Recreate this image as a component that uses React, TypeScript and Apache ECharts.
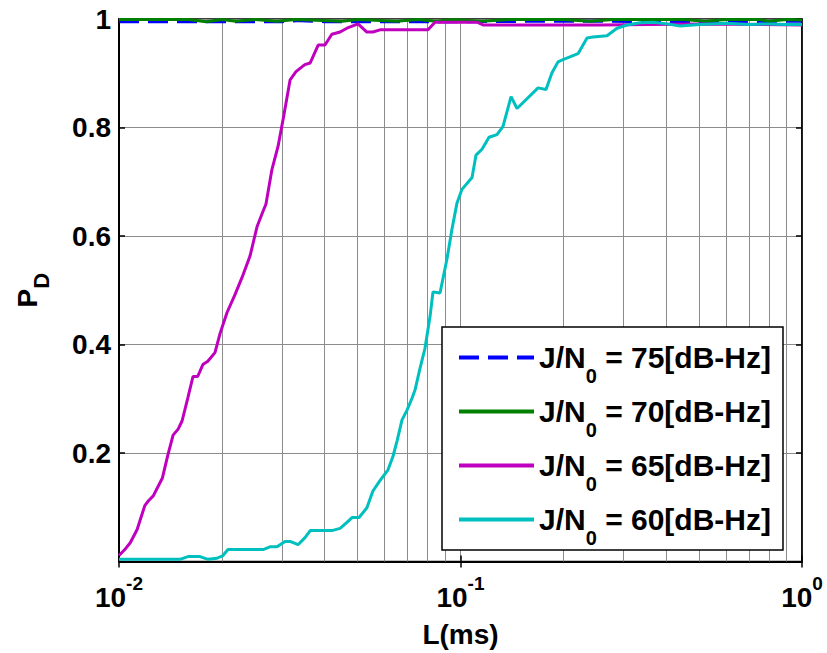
import React, { useEffect, useRef } from 'react';
import * as echarts from 'echarts';

// ---- data (L in ms, P_D) ----
const levels = ['75', '70', '65', '60'];
const seriesNames = levels.map((l) => `J/N0 = ${l}[dB-Hz]`);
const colors = ['#0000FF', '#008000', '#BF00BF', '#00BFBF'];

const L75 = [0.01, 0.03, 0.034, 0.04, 0.1, 0.2, 0.5, 1.0];
const P75 = [0.995, 0.995, 0.997, 0.995, 0.995, 0.996, 0.995, 0.996];

const L70 = [0.01, 0.016, 0.018, 0.02, 0.022, 0.025, 0.029, 0.033, 0.045, 0.05, 0.065, 0.075, 0.085, 0.095, 0.115, 0.14, 0.2, 0.24, 0.28, 0.45, 0.52, 0.6, 0.75, 0.8, 0.9, 1.0];
const P70 = [0.999, 0.999, 0.995, 0.999, 0.996, 0.999, 0.996, 0.999, 0.996, 0.999, 0.996, 0.999, 0.996, 0.999, 0.996, 0.999, 0.999, 0.996, 0.999, 0.999, 0.996, 0.999, 0.999, 0.996, 0.999, 0.998];

const L65 = [0.01, 0.0104, 0.0108, 0.0113, 0.0119, 0.0122, 0.0126, 0.0134, 0.0139, 0.0144, 0.0149, 0.0153, 0.0159, 0.01647, 0.0170, 0.0176, 0.0182, 0.0191, 0.01976, 0.02072, 0.02186, 0.02307, 0.02419, 0.02536, 0.0262, 0.02694, 0.02805, 0.02922, 0.03042, 0.0317, 0.03298, 0.035, 0.0363, 0.0383, 0.0401, 0.042, 0.0444, 0.0465, 0.0501, 0.0532, 0.0554, 0.0581, 0.0803, 0.0842, 0.1118, 0.1164, 0.2562, 0.5, 1.0];
const P65 = [0.011, 0.022, 0.035, 0.059, 0.103, 0.112, 0.121, 0.154, 0.196, 0.233, 0.244, 0.259, 0.301, 0.341, 0.341, 0.363, 0.369, 0.385, 0.42, 0.459, 0.492, 0.528, 0.563, 0.617, 0.64, 0.659, 0.723, 0.765, 0.824, 0.888, 0.903, 0.916, 0.919, 0.952, 0.952, 0.972, 0.976, 0.983, 0.991, 0.976, 0.976, 0.98, 0.98, 0.994, 0.994, 0.989, 0.989, 0.991, 0.989];

const L60 = [0.01, 0.01509, 0.01592, 0.01727, 0.01822, 0.01936, 0.02016, 0.02085, 0.02641, 0.02768, 0.02902, 0.03063, 0.03168, 0.03344, 0.03505, 0.0363, 0.042, 0.0444, 0.0465, 0.04812, 0.05045, 0.0532, 0.0554, 0.0581, 0.06134, 0.06344, 0.06518, 0.06742, 0.06973, 0.07211, 0.07358, 0.0761, 0.0787, 0.08141, 0.08307, 0.0871, 0.09131, 0.09443, 0.09768, 0.101, 0.1081, 0.111, 0.1156, 0.1212, 0.1279, 0.1332, 0.1406, 0.1464, 0.1687, 0.178, 0.1853, 0.193, 0.1996, 0.2209, 0.2347, 0.2443, 0.2685, 0.2872, 0.3073, 0.3355, 0.3662, 0.4025, 0.4394, 0.5, 0.6, 0.7, 0.8, 0.9, 1.0];
const P60 = [0.004, 0.004, 0.009, 0.009, 0.004, 0.006, 0.011, 0.022, 0.022, 0.027, 0.027, 0.037, 0.037, 0.031, 0.044, 0.057, 0.057, 0.061, 0.072, 0.081, 0.081, 0.099, 0.13, 0.149, 0.169, 0.194, 0.222, 0.261, 0.279, 0.301, 0.316, 0.356, 0.393, 0.451, 0.497, 0.495, 0.558, 0.613, 0.661, 0.686, 0.708, 0.749, 0.76, 0.782, 0.787, 0.802, 0.857, 0.835, 0.873, 0.87, 0.901, 0.921, 0.925, 0.936, 0.965, 0.967, 0.969, 0.983, 0.989, 0.993, 0.994, 0.991, 0.987, 0.99, 0.992, 0.99, 0.991, 0.99, 0.99];

const seriesL = [L75, L70, L65, L60];
const seriesP = [P75, P70, P65, P60];

const xMin = 0.01;
const xMax = 1;
const yMin = 0;
const yMax = 1;
const yStep = 0.2;
const minorGridX = [0.02, 0.03, 0.04, 0.05, 0.06, 0.07, 0.08, 0.09, 0.2, 0.3, 0.4, 0.5, 0.6, 0.7, 0.8, 0.9];

const FONT = '"Liberation Sans", Arial, Helvetica, sans-serif';
const GRID_COLOR = '#8c8c8c';

export default function App() {
  const ref = useRef<HTMLDivElement>(null);

  useEffect(() => {
    if (!ref.current) return;
    const chart = echarts.init(ref.current, undefined, { renderer: 'svg' });

    const dataSeries = seriesNames.map((name, i) => ({
      name,
      type: 'line',
      xAxisIndex: 0,
      yAxisIndex: 0,
      data: seriesL[i].map((l, j) => [l, seriesP[i][j]]),
      showSymbol: false,
      symbol: 'none',
      z: 3 + i,
      lineStyle: {
        color: colors[i],
        width: 3,
        type: i === 0 ? [20, 9] : 'solid',
      },
      itemStyle: { color: colors[i] },
    }));

    const option: any = {
      animation: false,
      backgroundColor: '#fff',
      textStyle: { fontFamily: FONT },
      grid: {
        left: 119,
        top: 19,
        right: 25,
        bottom: 89,
        show: true,
        backgroundColor: '#fff',
        borderColor: '#000',
        borderWidth: 1.5,
      },
      xAxis: [
        {
          type: 'log',
          logBase: 10,
          min: xMin,
          max: xMax,
          position: 'bottom',
          axisLine: { show: true, lineStyle: { color: '#000', width: 2 } },
          axisTick: { show: true, inside: true, length: 6, lineStyle: { color: '#000', width: 1.5 } },
          splitLine: { show: true, lineStyle: { color: GRID_COLOR, width: 1 } },
          axisLabel: {
            margin: 12,
            color: '#000',
            formatter: (v: number) => `{b|10}{s|${Math.round(Math.log10(v))}}`,
            rich: {
              b: { fontSize: 28, fontWeight: 'bold', fontFamily: FONT, color: '#000', lineHeight: 48 },
              s: { fontSize: 19, fontWeight: 'bold', fontFamily: FONT, color: '#000', lineHeight: 20, verticalAlign: 'top' },
            },
          },
          name: 'L(ms)',
          nameLocation: 'middle',
          nameGap: 59,
          nameTextStyle: { fontSize: 28, fontWeight: 'bold', fontFamily: FONT, color: '#000', lineHeight: 27 },
        },
        {
          type: 'log',
          logBase: 10,
          min: xMin,
          max: xMax,
          position: 'top',
          axisLine: { show: true, lineStyle: { color: '#000', width: 1.5 } },
          axisTick: { show: true, inside: true, length: 6, lineStyle: { color: '#000', width: 1.5 } },
          splitLine: { show: false },
          axisLabel: { show: false },
        },
      ],
      yAxis: [
        {
          type: 'value',
          min: yMin,
          max: yMax,
          interval: yStep,
          position: 'left',
          axisLine: { show: true, lineStyle: { color: '#000', width: 2 } },
          axisTick: { show: true, inside: true, length: 6, lineStyle: { color: '#000', width: 1.5 } },
          splitLine: { show: true, lineStyle: { color: GRID_COLOR, width: 1 } },
          axisLabel: {
            margin: 8,
            color: '#000',
            fontSize: 28,
            fontWeight: 'bold',
            fontFamily: FONT,
            formatter: (v: number) => (v === 0 ? '' : v === 1 ? '1' : v.toFixed(1)),
          },
          name: '{p|P}{d|D}',
          nameLocation: 'middle',
          nameRotate: 90,
          nameGap: 67,
          nameTextStyle: {
            rich: {
              p: { fontSize: 28, fontWeight: 'bold', fontFamily: FONT, color: '#000', lineHeight: 50 },
              d: { fontSize: 22, fontWeight: 'bold', fontFamily: FONT, color: '#000', lineHeight: 14, verticalAlign: 'bottom' },
            },
          },
        },
        {
          type: 'value',
          min: yMin,
          max: yMax,
          interval: yStep,
          position: 'right',
          axisLine: { show: true, lineStyle: { color: '#000', width: 1.5 } },
          axisTick: { show: true, inside: true, length: 6, lineStyle: { color: '#000', width: 1.5 } },
          splitLine: { show: false },
          axisLabel: { show: false },
        },
      ],
      legend: {
        data: seriesNames,
        orient: 'vertical',
        left: 442,
        top: 327,
        itemWidth: 75,
        itemHeight: 12,
        itemGap: -3,
        padding: [2, 12, 2, 15],
        backgroundColor: '#fff',
        borderColor: '#000',
        borderWidth: 1.5,
        borderRadius: 0,
        selectedMode: false,
        itemStyle: { opacity: 0 },
        lineStyle: { width: 4 },
        formatter: (name: string) => {
          const rest = name.split('N0')[1];
          return `{a|J/N}{s|0}{a|${rest}}`;
        },
        textStyle: {
          fontSize: 30,
          fontWeight: 'bold',
          fontFamily: FONT,
          color: '#000',
          lineHeight: 50,
          rich: {
            a: { fontSize: 30, fontWeight: 'bold', fontFamily: FONT, color: '#000', lineHeight: 50 },
            s: { fontSize: 20, fontWeight: 'bold', fontFamily: FONT, color: '#000', lineHeight: 14, padding: [37, 0, 0, 0] },
          },
        },
      },
      series: [
        {
          type: 'lines',
          coordinateSystem: 'cartesian2d',
          xAxisIndex: 0,
          yAxisIndex: 0,
          silent: true,
          z: 1,
          lineStyle: { color: GRID_COLOR, width: 1, opacity: 1 },
          data: minorGridX.map((v) => ({ coords: [[v, yMin], [v, yMax]] })),
        },
        ...dataSeries,
      ],
    };

    chart.setOption(option);
    return () => chart.dispose();
  }, []);

  return (
    <div
      ref={ref}
      style={{ position: 'absolute', left: 0, top: 0, width: 827, height: 653, background: '#fff' }}
    />
  );
}
